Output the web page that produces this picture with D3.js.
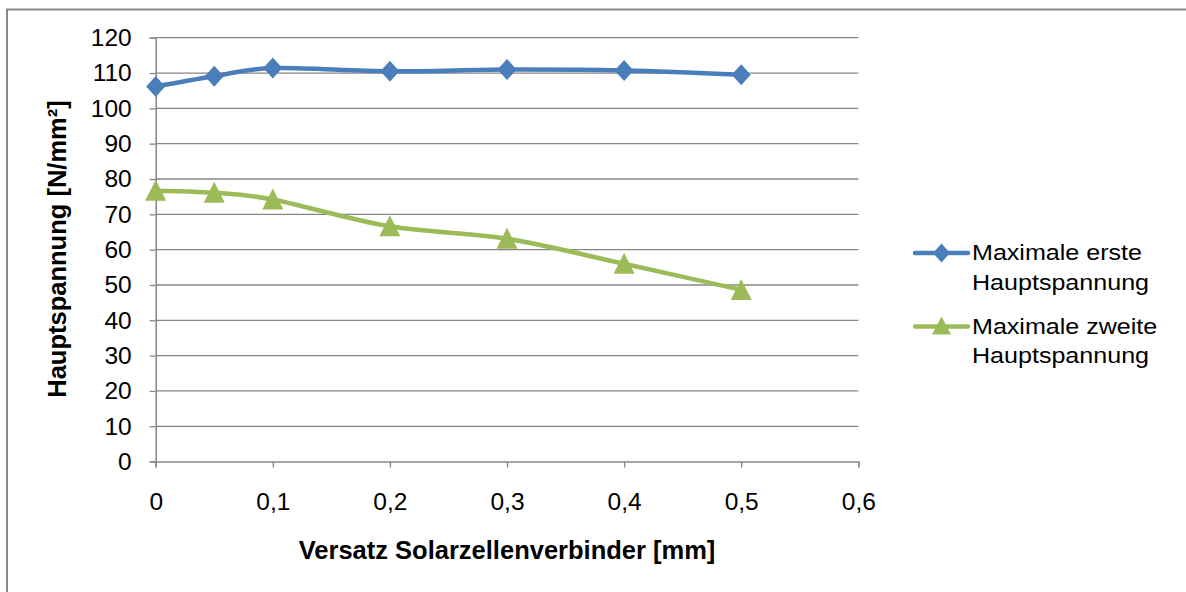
<!DOCTYPE html>
<html>
<head>
<meta charset="utf-8">
<script src="https://cdn.jsdelivr.net/npm/d3@7"></script>
<style>
  html, body { margin: 0; padding: 0; background: #fff; }
  svg { display: block; font-family: "Liberation Sans", Arial, sans-serif; }
</style>
</head>
<body>
<svg id="chart" width="1186" height="592"></svg>
<script>
// Offset of the solar cell connector [mm]
const offsets = [0, 0.05, 0.1, 0.2, 0.3, 0.4, 0.5];
// Maximum first principal stress [N/mm²]
const firstStress = [106.2, 109.1, 111.4, 110.5, 111.0, 110.7, 109.5];
// Maximum second principal stress [N/mm²]
const secondStress = [76.7, 76.1, 74.2, 66.6, 63.1, 56.0, 48.6];

const seriesNames = [
  ["Maximale erste", "Hauptspannung"],
  ["Maximale zweite", "Hauptspannung"]
];
const xTicks = [0, 0.1, 0.2, 0.3, 0.4, 0.5, 0.6];
const yTicks = [0, 10, 20, 30, 40, 50, 60, 70, 80, 90, 100, 110, 120];

const FONT = "Liberation Sans, Arial, sans-serif";
const svg = d3.select("#chart");

// outer chart frame (runs past the right and bottom edges)
svg.append("rect")
  .attr("x", 7).attr("y", 9.5)
  .attr("width", 1200).attr("height", 620)
  .attr("fill", "#fff")
  .attr("stroke", "#878787").attr("stroke-width", 2);

const plot = { left: 155.7, right: 858.3, top: 37.7, bottom: 461.6 };
const x = d3.scaleLinear().domain([0, 0.6]).range([plot.left, plot.right]);
const y = d3.scaleLinear().domain([0, 120]).range([plot.bottom, plot.top]);

const fmt = d => String(d).replace(".", ",");

// horizontal gridlines
svg.append("g").selectAll("line").data(yTicks.filter(d => d > 0)).join("line")
  .attr("x1", plot.left).attr("x2", plot.right)
  .attr("y1", d => y(d)).attr("y2", d => y(d))
  .attr("stroke", "#868686").attr("stroke-width", 1.3);

// y axis
const yAxis = svg.append("g")
  .attr("transform", `translate(${plot.left},0)`)
  .call(d3.axisLeft(y).tickValues(yTicks).tickSize(6).tickPadding(18).tickFormat(d => d));
yAxis.select(".domain").attr("stroke", "#868686").attr("stroke-width", 1.5);
yAxis.selectAll(".tick line").attr("stroke", "#868686").attr("stroke-width", 1.3);
yAxis.selectAll("text").attr("font-size", 24.5).attr("fill", "#000").attr("font-family", FONT);

// x axis
const xAxis = svg.append("g")
  .attr("transform", `translate(0,${plot.bottom})`)
  .call(d3.axisBottom(x).tickValues(xTicks).tickSize(6).tickPadding(25).tickFormat(fmt));
xAxis.select(".domain").attr("stroke", "#868686").attr("stroke-width", 1.5);
xAxis.selectAll(".tick line").attr("stroke", "#868686").attr("stroke-width", 1.3);
xAxis.selectAll("text").attr("font-size", 24.5).attr("fill", "#000").attr("font-family", FONT);

// axis titles
svg.append("text")
  .attr("x", 507).attr("y", 558.5)
  .attr("text-anchor", "middle")
  .attr("font-size", 25.5).attr("font-weight", "bold")
  .text("Versatz Solarzellenverbinder [mm]");

svg.append("text")
  .attr("transform", "translate(66,249) rotate(-90)")
  .attr("text-anchor", "middle")
  .attr("font-size", 25.5).attr("font-weight", "bold")
  .text("Hauptspannung [N/mm²]");

// series
const series = [
  { values: firstStress, color: "#4a7ebb" },
  { values: secondStress, color: "#9bbb59" }
];

const line = d3.line()
  .x(d => x(d[0])).y(d => y(d[1]))
  .curve(d3.curveCardinal.tension(0));

const diamond = (w, h) => `M0,${-h}L${w},0L0,${h}L${-w},0Z`;
const triangle = (w, up, down) => `M0,${-up}L${w},${down}L${-w},${down}Z`;

series.forEach((s, i) => {
  const pts = offsets.map((o, j) => [o, s.values[j]]);
  svg.append("path")
    .attr("d", line(pts))
    .attr("fill", "none")
    .attr("stroke", s.color)
    .attr("stroke-width", 4.5)
    .attr("stroke-linejoin", "round");
  svg.append("g").selectAll("path").data(pts).join("path")
    .attr("transform", d => `translate(${x(d[0])},${y(d[1])})`)
    .attr("d", i === 0 ? diamond(9.5, 10.5) : triangle(10.5, 11, 10))
    .attr("fill", s.color);
});

// legend
const legend = svg.append("g");
const legendY = [253, 326.5];
series.forEach((s, i) => {
  const ly = legendY[i];
  legend.append("line")
    .attr("x1", 915).attr("x2", 968)
    .attr("y1", ly).attr("y2", ly)
    .attr("stroke", s.color).attr("stroke-width", 4.5)
    .attr("stroke-linecap", "round");
  legend.append("path")
    .attr("transform", `translate(941.5,${ly})`)
    .attr("d", i === 0 ? diamond(8.5, 9.5) : triangle(9.5, 10, 8))
    .attr("fill", s.color);
  seriesNames[i].forEach((t, k) => {
    legend.append("text")
      .attr("transform", `translate(972,${ly + 7 + k * 29.5}) scale(1.14,1)`)
      .attr("font-size", 22).attr("fill", "#000")
      .text(t);
  });
});
</script>
</body>
</html>
